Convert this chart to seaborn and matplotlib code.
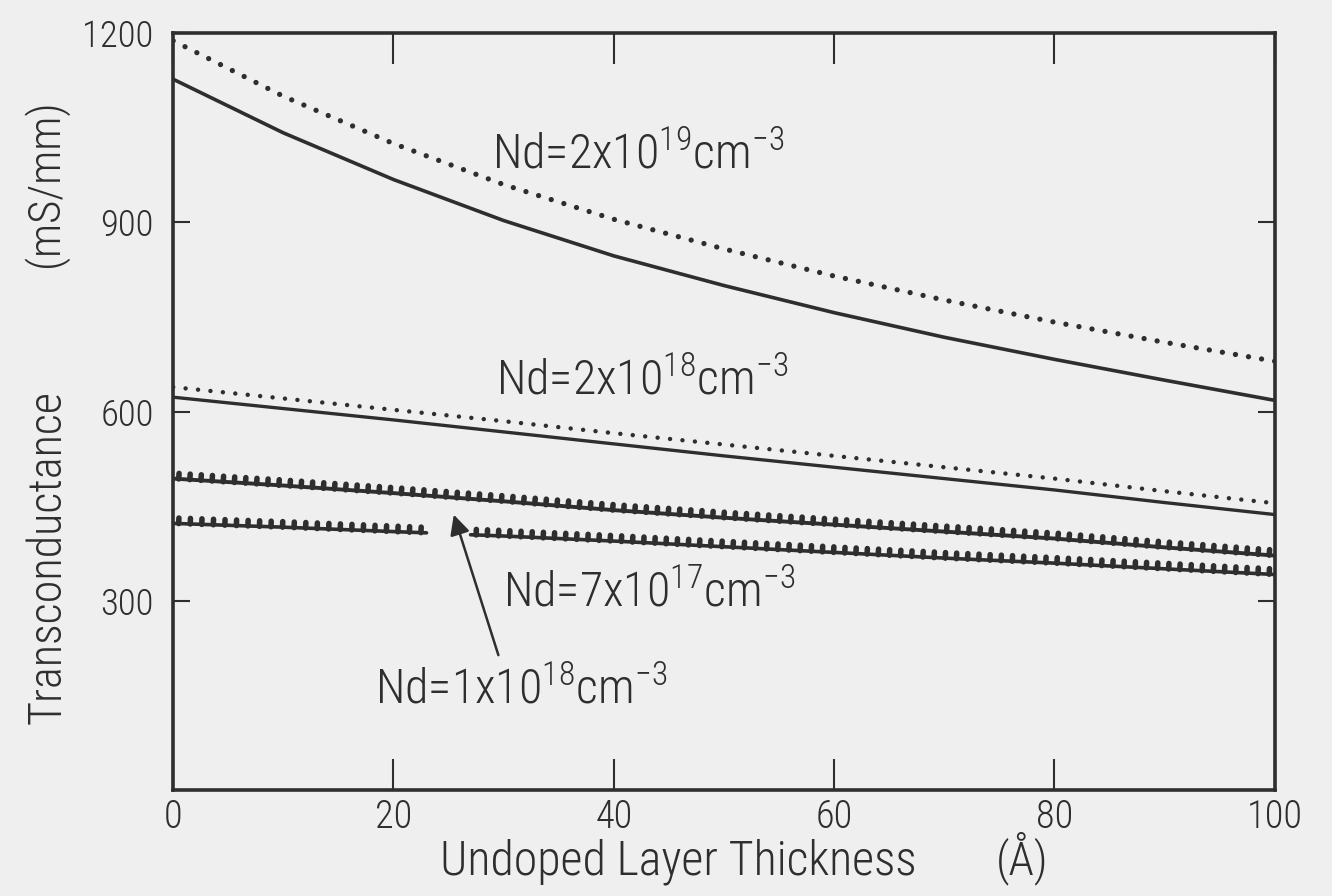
import numpy as np
import matplotlib
matplotlib.use('Agg')
import matplotlib.pyplot as plt
import matplotlib.patheffects as pe
from matplotlib import font_manager
import seaborn as sns

# %%
# values (transconductance in mS/mm)
thickness = [0, 10, 20, 30, 40, 50, 60, 70, 80, 90, 100]
gm_2e19_dotted = [1188, 1100, 1025, 960, 905, 858, 815, 777, 742, 710, 680]
gm_2e19_solid = [1127, 1042, 968, 903, 847, 800, 757, 718, 683, 650, 618]
gm_2e18_dotted = [639, 621, 603, 585, 566, 548, 530, 512, 494, 474, 455]
gm_2e18_solid = [623, 605, 587, 568, 549, 530, 512, 494, 476, 456, 437]
gm_1e18 = [494, 483, 471, 458, 444, 432, 421, 410, 399, 385, 372]
# the 7e17 curve is broken where the arrow passes through it
thickness_7e17 = [0, 10, 20, 23, 25, 27, 30, 40, 50, 60, 70, 80, 90, 100]
gm_7e17 = [423, 417, 410, 408, np.nan, 405, 403, 395, 386, 377, 368, 360, 351, 342]

xticks = [0, 20, 40, 60, 80, 100]
yticks = [300, 600, 900, 1200]

# %%
# pick a narrow sans if one is around, the scan uses tall condensed lettering
available = {f.name for f in font_manager.fontManager.ttflist}
font = 'Liberation Sans'
narrow = False
for cand in ['Liberation Sans Narrow', 'Roboto Condensed', 'DejaVu Sans Condensed']:
    if cand in available:
        font = cand
        narrow = True
        break
k = 1.15 if narrow else 1.0

sns.set_style('ticks')
plt.rcParams['font.family'] = [font, 'DejaVu Sans']
plt.rcParams['font.weight'] = 'light'
plt.rcParams['mathtext.fontset'] = 'custom'
plt.rcParams['mathtext.rm'] = font + ':weight=light'
plt.rcParams['mathtext.it'] = font + ':weight=light'

ink = '#2e2e2e'
paper = '#efefef'

fig = plt.figure(figsize=(13.32, 8.96), dpi=100, facecolor=paper)
ax = fig.add_axes([0.130, 0.118, 0.827, 0.845], facecolor=paper)

dotted_big = dict(color=ink, lw=3.8, linestyle=(0, (0.01, 2.5)), dash_capstyle='round')
dotted_small = dict(color=ink, lw=3.2, linestyle=(0, (0.01, 2.8)), dash_capstyle='round')
bumps = [pe.Normal(), pe.TickedStroke(spacing=8, angle=90, length=0.5, linewidth=4.0)]

sns.lineplot(x=thickness, y=gm_2e19_dotted, ax=ax, **dotted_big)
sns.lineplot(x=thickness, y=gm_2e19_solid, ax=ax, color=ink, lw=2.6)
sns.lineplot(x=thickness, y=gm_2e18_dotted, ax=ax, **dotted_small)
sns.lineplot(x=thickness, y=gm_2e18_solid, ax=ax, color=ink, lw=2.4)
sns.lineplot(x=thickness, y=gm_1e18, ax=ax, color=ink, lw=2.8, path_effects=bumps)

# split the 7e17 series at the gap
t7 = np.array(thickness_7e17, dtype=float)
g7 = np.array(gm_7e17, dtype=float)
gap = np.where(np.isnan(g7))[0][0]
for sl in (slice(0, gap), slice(gap + 1, None)):
    sns.lineplot(x=t7[sl], y=g7[sl], ax=ax, color=ink, lw=2.6, path_effects=bumps)

# %%
# curve labels
lab = dict(color=ink, fontsize=30 * k, ha='left', va='baseline')
ax.text(28.9, 985, r'Nd=2x10$^{19}$cm$^{-3}$', **lab)
ax.text(29.3, 628, r'Nd=2x10$^{18}$cm$^{-3}$', **lab)
ax.text(29.9, 292, r'Nd=7x10$^{17}$cm$^{-3}$', **lab)
ax.text(18.3, 138, r'Nd=1x10$^{18}$cm$^{-3}$', **lab)
ax.annotate('', xy=(25.4, 441), xytext=(29.6, 210),
            arrowprops=dict(arrowstyle='-|>', color=ink, lw=1.8, mutation_scale=30))

# %%
ax.set_xlim(0, 100)
ax.set_ylim(0, 1200)
ax.set_xticks(xticks)
ax.set_xticklabels([str(v) for v in xticks])
ax.set_yticks(yticks)
ax.set_yticklabels([str(v) for v in yticks])
ax.tick_params(axis='x', direction='in', length=22, width=1.5, top=True, bottom=True,
               colors=ink, labelsize=24 * k, pad=6)
ax.tick_params(axis='y', direction='in', length=12, width=1.5, left=True, right=True,
               colors=ink, labelsize=23 * k, pad=14)
for sp in ax.spines.values():
    sp.set_visible(True)
    sp.set_color(ink)
    sp.set_linewidth(2.6)

fig.text(0.036, 0.378, 'Transconductance', rotation=90, ha='center', va='center',
         fontsize=29 * k, color=ink)
fig.text(0.034, 0.796, '(mS/mm)', rotation=90, ha='center', va='center',
         fontsize=28 * k, color=ink)
fig.text(0.330, 0.024, 'Undoped Layer Thickness', ha='left', va='baseline',
         fontsize=30 * k, color=ink)
fig.text(0.748, 0.024, '(Å)', ha='left', va='baseline', fontsize=29 * k, color=ink)

fig.savefig('out.png', dpi=100, facecolor=paper)
